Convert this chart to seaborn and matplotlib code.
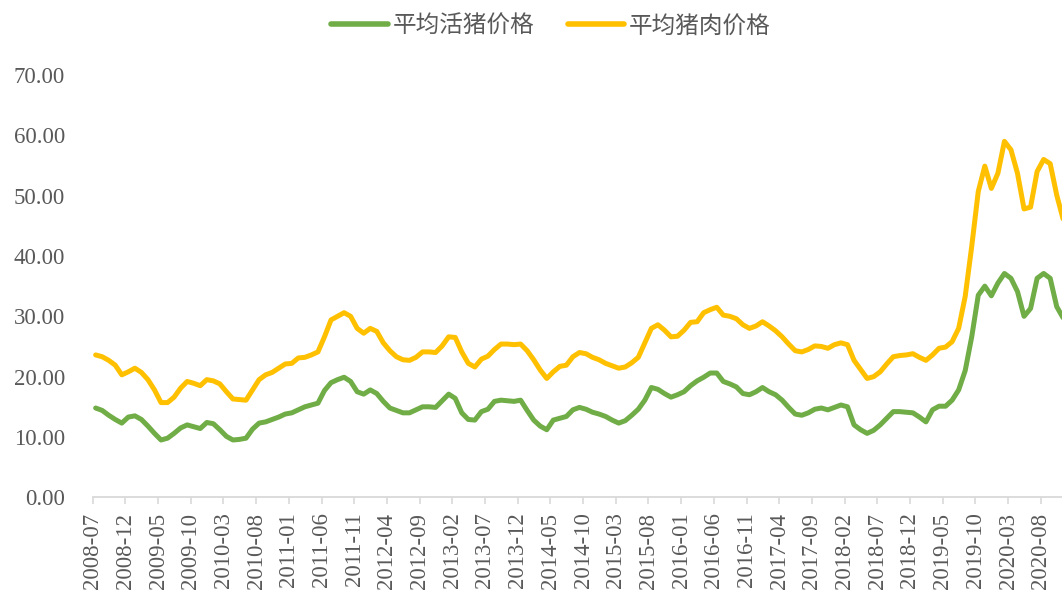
import numpy as np
import pandas as pd
import matplotlib
matplotlib.use("Agg")
import matplotlib.pyplot as plt
from matplotlib.font_manager import FontProperties
import seaborn as sns

# ---------------- data ----------------
start_month = "2008-07"
series_names = ["平均活猪价格", "平均猪肉价格"]
series_colors = ["#70AD47", "#FFC000"]

live_hog = [
    14.8, 14.4, 13.6, 12.9, 12.3, 13.3, 13.5, 12.9, 11.8, 10.6, 9.5, 9.8, 10.6, 11.5, 12.0,
    11.7, 11.4, 12.4, 12.2, 11.2, 10.1, 9.5, 9.6, 9.8, 11.3, 12.3, 12.5, 12.9, 13.3, 13.8,
    14.0, 14.5, 15.0, 15.3, 15.6, 17.7, 19.0, 19.5, 19.9, 19.2, 17.5, 17.1, 17.8, 17.2, 15.9,
    14.8, 14.4, 14.0, 14.0, 14.5, 15.0, 15.0, 14.9, 16.0, 17.1, 16.4, 14.0, 12.9, 12.8, 14.2,
    14.6, 15.9, 16.1, 16.0, 15.9, 16.1, 14.4, 12.8, 11.8, 11.2, 12.8, 13.1, 13.4, 14.5, 14.9,
    14.6, 14.1, 13.8, 13.4, 12.8, 12.3, 12.7, 13.6, 14.6, 16.1, 18.2, 17.9, 17.2, 16.6, 17.0,
    17.5, 18.5, 19.3, 19.9, 20.6, 20.6, 19.2, 18.8, 18.3, 17.2, 17.0, 17.5, 18.2, 17.5, 17.0,
    16.1, 14.9, 13.8, 13.6, 14.0, 14.6, 14.8, 14.5, 14.9, 15.3, 15.0, 12.0, 11.2, 10.6, 11.1,
    12.0, 13.1, 14.2, 14.2, 14.1, 14.0, 13.3, 12.5, 14.5, 15.1, 15.1, 16.1, 17.8, 21.0, 26.6,
    33.5, 35.0, 33.4, 35.5, 37.1, 36.3, 34.1, 30.0, 31.3, 36.3, 37.1, 36.3, 31.6, 29.7,
]
pork = [
    23.6, 23.3, 22.7, 21.9, 20.3, 20.8, 21.4, 20.7, 19.5, 17.8, 15.7, 15.7, 16.6, 18.1, 19.2,
    18.9, 18.5, 19.5, 19.3, 18.8, 17.5, 16.3, 16.2, 16.1, 17.8, 19.5, 20.3, 20.7, 21.4, 22.1,
    22.2, 23.1, 23.2, 23.6, 24.1, 26.6, 29.4, 30.0, 30.6, 30.0, 28.0, 27.2, 28.0, 27.5, 25.6,
    24.3, 23.3, 22.8, 22.7, 23.2, 24.1, 24.1, 24.0, 25.1, 26.6, 26.5, 24.1, 22.2, 21.6, 22.9,
    23.4, 24.5, 25.4, 25.4, 25.3, 25.4, 24.3, 22.8, 21.1, 19.7, 20.8, 21.7, 21.9, 23.3, 24.0,
    23.8, 23.2, 22.8, 22.2, 21.8, 21.4, 21.6, 22.3, 23.2, 25.6, 28.0, 28.6, 27.7, 26.6, 26.7,
    27.7, 29.0, 29.1, 30.6, 31.1, 31.5, 30.2, 30.0, 29.6, 28.6, 28.0, 28.4, 29.1, 28.4, 27.6,
    26.6, 25.4, 24.3, 24.1, 24.5, 25.1, 25.0, 24.7, 25.3, 25.6, 25.3, 22.7, 21.2, 19.7, 20.0,
    20.8, 22.1, 23.3, 23.5, 23.6, 23.8, 23.2, 22.7, 23.6, 24.7, 24.9, 25.8, 28.0, 33.3, 41.6,
    50.7, 54.9, 51.2, 53.7, 59.0, 57.6, 53.7, 47.8, 48.1, 54.0, 56.0, 55.3, 50.1, 46.0,
]
y_ticks = [0, 10, 20, 30, 40, 50, 60, 70]
label_every = 5

# ---------------- build table ----------------
n = len(live_hog)
months = pd.period_range(start_month, periods=n, freq="M")
month_index = np.arange(n)
point_pos = month_index + 0.45  # monthly averages drawn at mid-month
tick_idx = month_index[::label_every]
tick_labels = [str(p) for p in months[::label_every]]

df = pd.DataFrame({
    "pos": np.concatenate([point_pos, point_pos]),
    "value": live_hog + pork,
    "series": [series_names[0]] * n + [series_names[1]] * n,
})

# ---------------- figure ----------------
sns.set_theme(style="white")
plt.rcParams["font.family"] = ["Liberation Serif", "DejaVu Serif"]
text_color = "#595959"

W, H = 1062, 592
fig = plt.figure(figsize=(W / 100, H / 100), dpi=100)
left_px, bottom_px, top_px = 92.7, 497.3, 75.0
px_per_month = 6.538
x_max = 150
ax = fig.add_axes([left_px / W, 1 - bottom_px / H,
                   x_max * px_per_month / W, (bottom_px - top_px) / H])

sns.lineplot(data=df, x="pos", y="value", hue="series",
             palette=dict(zip(series_names, series_colors)),
             linewidth=3.6, ax=ax, solid_capstyle="round", solid_joinstyle="round")

handles, labels = ax.get_legend_handles_labels()
ax.get_legend().remove()

ax.set_xlim(0, x_max)
ax.set_ylim(0, 70)
ax.set_xlabel("")
ax.set_ylabel("")

ax.set_xticks(tick_idx)
ax.set_xticklabels(tick_labels, rotation=90, fontsize=16.5, color=text_color)
ax.set_yticks(y_ticks)
ax.set_yticklabels([f"{v:.2f}" for v in y_ticks], fontsize=16.5, color=text_color)

ax.tick_params(axis="x", length=5, width=1.2, color="#D9D9D9", pad=6, bottom=True)
ax.tick_params(axis="y", length=0, pad=20)

for s in ["top", "right", "left"]:
    ax.spines[s].set_visible(False)
ax.spines["bottom"].set_color("#D9D9D9")
ax.spines["bottom"].set_linewidth(1.3)
ax.grid(False)

for h in handles:
    h.set_linewidth(4.0)
    h.set_solid_capstyle("round")
leg = fig.legend(handles, labels, loc="center", bbox_to_anchor=(551 / W, 1 - 26 / H),
                 ncol=2, frameon=False,
                 prop=FontProperties(family=["Noto Sans CJK SC", "DejaVu Sans"], size=17),
                 handlelength=2.4, handletextpad=0.2, columnspacing=1.4,
                 labelcolor=text_color)

fig.savefig("out.png", dpi=100)
